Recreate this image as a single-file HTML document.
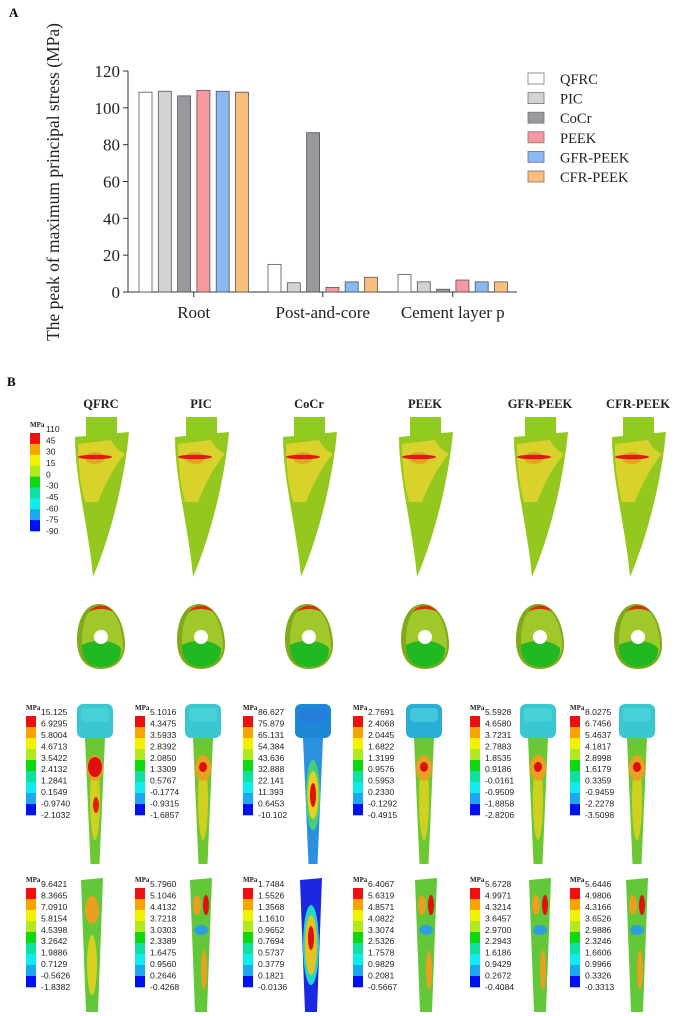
<!DOCTYPE html>
<html><head><meta charset="utf-8"><style>
html,body{margin:0;padding:0;background:#fff;}
svg{display:block;}
text{font-family:"Liberation Serif",serif;}
.lg{font-family:"Liberation Sans",sans-serif;font-size:8.6px;fill:#222;}
</style></head><body>
<svg id="fig" width="677" height="1016" viewBox="0 0 677 1016" xmlns="http://www.w3.org/2000/svg">
<text x="9" y="17" font-size="13" font-weight="bold">A</text>
<g id="chart"></g>
<text x="7" y="386" font-size="13" font-weight="bold">B</text>
<g id="panelB"></g>
</svg>
<script>
const categories = ["Root","Post-and-core","Cement layer p"];
const seriesNames = ["QFRC","PIC","CoCr","PEEK","GFR-PEEK","CFR-PEEK"];
const seriesColors = ["#ffffff","#d3d3d3","#9a9a9e","#f79aa0","#8ab8f2","#f9bd7e"];
const valQFRC = [108.5,15,9.5];
const valPIC = [109,5,5.5];
const valCoCr = [106.5,86.5,1.5];
const valPEEK = [109.5,2.5,6.5];
const valGFR = [109,5.5,5.5];
const valCFR = [108.5,8,5.5];
const yTicks = [0,20,40,60,80,100,120];

const NS="http://www.w3.org/2000/svg";
function mk(tag,attrs,parent){const e=document.createElementNS(NS,tag);for(const k in attrs)e.setAttribute(k,attrs[k]);parent.appendChild(e);return e;}

(function(){
 const g=document.getElementById('chart');
 const series=[valQFRC,valPIC,valCoCr,valPEEK,valGFR,valCFR];
 const x0=128,x1=517,yb=292,yt=71;
 const y=v=>yb-(v/120)*(yb-yt);
 const groupStart=[139,268,398], step=19.3, bw=13;
 const ax=mk('line',{x1:x0,y1:yt,x2:x0,y2:yb,stroke:'#333','stroke-width':1},g);
 
 const xa=mk('line',{x1:x0,y1:yb,x2:x1,y2:yb,stroke:'#333','stroke-width':1},g);
 
 yTicks.forEach(t=>{
  mk('line',{x1:x0-5,y1:y(t),x2:x0,y2:y(t),stroke:'#333'},g);
  const tx=mk('text',{x:x0-8,y:y(t)+6,'text-anchor':'end','font-size':17,fill:'#222'},g);
  tx.textContent=t;
  
 });
 categories.forEach((c,i)=>{
  const cx=groupStart[i]+step*2.5+bw/2-0.5*bw+ bw/2 - bw/2;
  const center=groupStart[i]+(step*5+bw)/2;
  mk('line',{x1:center,y1:yb,x2:center,y2:yb+5,stroke:'#333'},g);
  const tx=mk('text',{x:center,y:yb+26,'text-anchor':'middle','font-size':17,fill:'#222'},g);
  tx.textContent=c;
  
  series.forEach((s,j)=>{
   const r=mk('rect',{x:groupStart[i]+j*step,y:y(s[i]),width:bw,height:yb-y(s[i]),fill:seriesColors[j],stroke:'#555','stroke-width':0.8},g);
   
   
  });
 });
 const yt2=mk('text',{x:0,y:0,transform:'translate(59,182) rotate(-90)','text-anchor':'middle','font-size':17.5,fill:'#222'},g);
 yt2.textContent='The peak of maximum principal stress (MPa)';
 
 seriesNames.forEach((n,j)=>{
  const ly=73+j*19.6;
  const r=mk('rect',{x:528,y:ly,width:16,height:11,fill:seriesColors[j],stroke:'#777','stroke-width':0.8},g);
  
  const t=mk('text',{x:560,y:ly+11,'font-size':14.5,fill:'#222'},g);
  t.textContent=n;
  
 });
})();

const bColumns=["QFRC","PIC","CoCr","PEEK","GFR-PEEK","CFR-PEEK"];
const rootLegend=["110","45","30","15","0","-30","-45","-60","-75","-90"];
const postLegends=[
 ["15.125","6.9295","5.8004","4.6713","3.5422","2.4132","1.2841","0.1549","-0.9740","-2.1032"],
 ["5.1016","4.3475","3.5933","2.8392","2.0850","1.3309","0.5767","-0.1774","-0.9315","-1.6857"],
 ["86.627","75.879","65.131","54.384","43.636","32.888","22.141","11.393","0.6453","-10.102"],
 ["2.7691","2.4068","2.0445","1.6822","1.3199","0.9576","0.5953","0.2330","-0.1292","-0.4915"],
 ["5.5928","4.6580","3.7231","2.7883","1.8535","0.9186","-0.0161","-0.9509","-1.8858","-2.8206"],
 ["8.0275","6.7456","5.4637","4.1817","2.8998","1.6179","0.3359","-0.9459","-2.2278","-3.5098"]];
const cementLegends=[
 ["9.6421","8.3665","7.0910","5.8154","4.5398","3.2642","1.9886","0.7129","-0.5626","-1.8382"],
 ["5.7960","5.1046","4.4132","3.7218","3.0303","2.3389","1.6475","0.9560","0.2646","-0.4268"],
 ["1.7484","1.5526","1.3568","1.1610","0.9652","0.7694","0.5737","0.3779","0.1821","-0.0136"],
 ["6.4067","5.6319","4.8571","4.0822","3.3074","2.5326","1.7578","0.9829","0.2081","-0.5667"],
 ["5.6728","4.9971","4.3214","3.6457","2.9700","2.2943","1.6186","0.9429","0.2672","-0.4084"],
 ["5.6446","4.9806","4.3166","3.6526","2.9886","2.3246","1.6606","0.9966","0.3326","-0.3313"]];

(function(){
 const g=document.getElementById('panelB');
 const pal=["#ee1010","#f5a400","#f2f200","#b4e81e","#10d810","#10e0a0","#10ecec","#1ca8f0","#0010f0"];
 const colX=[101,201,309,425,540,638];
 const postX=[95,203,313,424,538,637];
 const stripX=[92,201,311,426,540,637];
 const legX=[26,135,243,353,470,570];
 function legend(x,top,bot,labels,big){
  const lg=mk('g',{},g);
  
  const t=mk('text',{x:x,y:top-6,'font-size':7,'font-weight':'bold',fill:'#222'},lg);t.textContent='MPa';
  const h=(bot-top)/9;
  for(let i=0;i<9;i++)mk('rect',{x:x,y:top+i*h,width:10,height:h+0.3,fill:pal[i]},lg);
  labels.forEach((l,i)=>{
   const tt=mk('text',{x:x+(big?16:15),y:top+i*h*(9/9.0)+ (big?3:3)+ (i===0? -2:0)+i*0,class:'lg'},lg);
   tt.setAttribute('y',top-1+i*(bot-top+4)/9);
   tt.textContent=l;
  });
 }
 legend(30,433,531,rootLegend,true);
 bColumns.forEach((n,i)=>{
  const cx=colX[i];
  const h=mk('text',{x:cx,y:408,'text-anchor':'middle','font-size':12.5,'font-weight':'bold',fill:'#222'},g);
  h.textContent=n;
  
  const tooth=mk('g',{},g);
  
  mk('rect',{x:cx-15,y:417,width:31,height:20,fill:'#8fcc22'},tooth);
  mk('path',{d:`M${cx-26},437 L${cx+28},432 C${cx+24},475 ${cx+12},530 ${cx-8},577 C${cx-12},530 ${cx-26},480 ${cx-26},437 Z`,fill:'#94c81e'},tooth);
  mk('path',{d:`M${cx-23},444 L${cx+10},440 C${cx+14},448 ${cx+20},452 ${cx+24},454 C${cx+10},470 ${cx+2},490 ${cx-3},502 L${cx-16},502 C${cx-22},480 ${cx-23},460 ${cx-23},444 Z`,fill:'#d8d22a'},tooth);
  mk('ellipse',{cx:cx-6,cy:458,rx:10,ry:6,fill:'#e0a820'},tooth);
  mk('ellipse',{cx:cx-6,cy:457,rx:17,ry:2.3,fill:'#e01818'},tooth);
  const cs=mk('g',{},g);
  
  mk('path',{d:`M${cx-2},604 C${cx+16},604 ${cx+24},628 ${cx+24},645 C${cx+24},662 ${cx+12},669 ${cx},669 C${cx-14},669 ${cx-24},660 ${cx-24},640 C${cx-24},620 ${cx-16},604 ${cx-2},604 Z`,fill:'#7faa1a'},cs);
  mk('path',{d:`M${cx},606 C${cx+14},606 ${cx+22},628 ${cx+22},645 C${cx+22},660 ${cx+12},667 ${cx},667 C${cx-12},667 ${cx-19},660 ${cx-19},640 C${cx-19},620 ${cx-12},606 ${cx},606 Z`,fill:'#a0c82a'},cs);
  mk('path',{d:`M${cx-19},645 C${cx-10},640 ${cx+10},638 ${cx+20},648 C${cx+21},660 ${cx+12},667 ${cx},667 C${cx-12},667 ${cx-19},660 ${cx-19},645 Z`,fill:'#22b822'},cs);
  mk('path',{d:`M${cx-12},612 C${cx-6},604 ${cx+6},603 ${cx+12},612 C${cx+6},608 ${cx-6},608 ${cx-12},612 Z`,fill:'#e02a10'},cs);
  mk('circle',{cx:cx,cy:637,r:7,fill:'#fff'},cs);
  // post
  const px=postX[i];
  const po=mk('g',{},g);
  
  const headCol = i===2?'#1e88d8':(i===3?'#2aaed6':'#3ac8d0');
  mk('path',{d:`M${px-10},738 L${px+10},738 L${px+4.5},864 L${px-4.5},864 Z`,fill:i===2?'#2a90e0':'#6cc832'},po);
  if(i===2){
   mk('ellipse',{cx:px,cy:795,rx:7,ry:35,fill:'#48d070'},po);
   mk('ellipse',{cx:px,cy:795,rx:5.5,ry:24,fill:'#e8d020'},po);
   mk('ellipse',{cx:px,cy:795,rx:3,ry:12,fill:'#e01010'},po);
  } else {
   mk('ellipse',{cx:px,cy:800,rx:5,ry:40,fill:'#d0d020'},po);
   mk('ellipse',{cx:px,cy:768,rx:8,ry:13,fill:'#e8a020'},po);
   mk('ellipse',{cx:px,cy:767,rx:i===0?7:4,ry:i===0?10:5,fill:'#e01010'},po);
   if(i===0)mk('ellipse',{cx:px+1,cy:805,rx:3,ry:8,fill:'#e02010'},po);
  }
  mk('rect',{x:px-18,y:704,width:36,height:34,rx:6,fill:headCol},po);
  mk('rect',{x:px-14,y:708,width:28,height:14,rx:4,fill:i===2?'#2a78e0':'#52d6dc',opacity:0.6},po);
  legend(legX[i],716,815,postLegends[i]);
  // cement
  const sx=stripX[i];
  const ce=mk('g',{},g);
  
  mk('path',{d:`M${sx-11},880 L${sx+11},878 L${sx+6},1012 L${sx-6},1012 Z`,fill:i===2?'#1a28e0':'#62c83a'},ce);
  if(i===2){
   mk('ellipse',{cx:sx,cy:945,rx:8,ry:40,fill:'#22d8c0'},ce);
   mk('ellipse',{cx:sx,cy:945,rx:6,ry:30,fill:'#e8c020'},ce);
   mk('ellipse',{cx:sx,cy:938,rx:3,ry:12,fill:'#e01010'},ce);
  } else if(i===0){
   mk('ellipse',{cx:sx,cy:910,rx:7,ry:14,fill:'#e8a020'},ce);
   mk('ellipse',{cx:sx,cy:965,rx:5,ry:30,fill:'#d8d020'},ce);
  } else {
   mk('ellipse',{cx:sx+5,cy:905,rx:3,ry:10,fill:'#e01010'},ce);
   mk('ellipse',{cx:sx-4,cy:905,rx:4,ry:10,fill:'#e8a020'},ce);
   mk('ellipse',{cx:sx,cy:930,rx:7,ry:5,fill:'#2aa0e0'},ce);
   mk('ellipse',{cx:sx+3,cy:970,rx:3,ry:20,fill:'#e8a020'},ce);
  }
  legend(legX[i],888,987,cementLegends[i]);
 });
})();
</script>
</body></html>
